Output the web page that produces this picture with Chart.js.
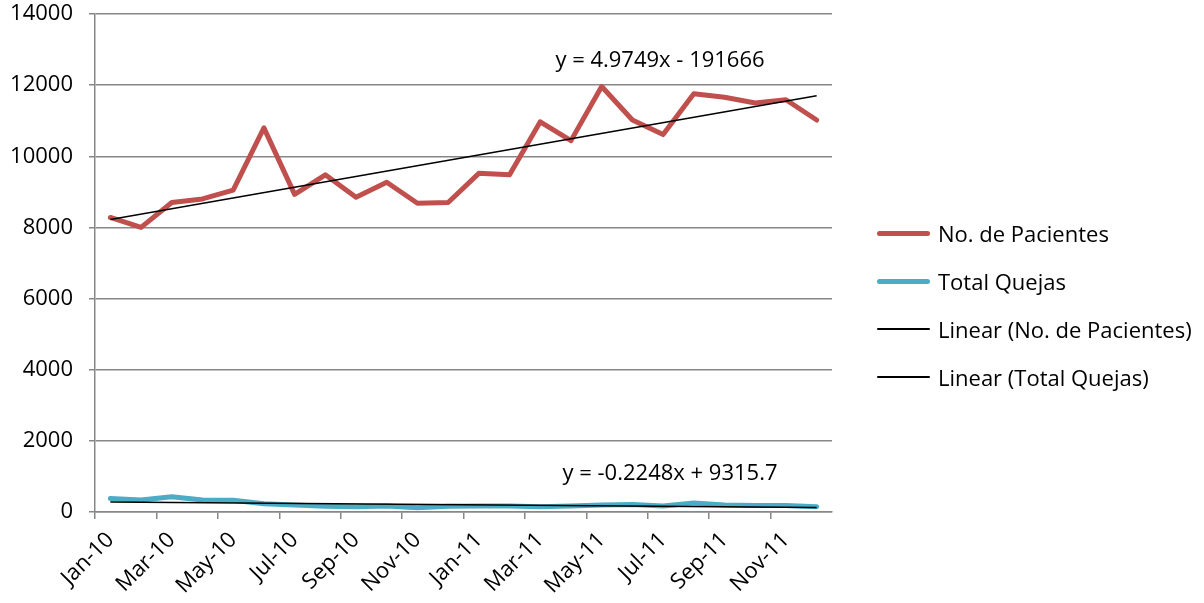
<!DOCTYPE html>
<html>
<head>
<meta charset="utf-8">
<script src="https://cdn.jsdelivr.net/npm/chart.js@4.4.1/dist/chart.umd.min.js"></script>
<style>
  html, body { margin: 0; padding: 0; background: #fff; }
  #wrap { position: relative; width: 1204px; height: 603px; overflow: hidden; }
  #legend { position: absolute; left: 877px; top: 0; font-family: 'Open Sans', Lato, sans-serif; font-size: 22px; color: #000; }
  .lg-item { position: absolute; left: 0; white-space: nowrap; display: flex; align-items: center; height: 30px; }
  .lg-line { width: 53px; margin-right: 8px; border-radius: 3px; }
</style>
</head>
<body>
<div id="wrap">
  <canvas id="chart" width="1204" height="603"></canvas>
  <div id="legend"></div>
</div>
<script>
// ===== data =====
const MONTHS = ['Jan-10','Feb-10','Mar-10','Apr-10','May-10','Jun-10','Jul-10','Aug-10','Sep-10','Oct-10','Nov-10','Dec-10',
                'Jan-11','Feb-11','Mar-11','Apr-11','May-11','Jun-11','Jul-11','Aug-11','Sep-11','Oct-11','Nov-11','Dec-11'];
const PACIENTES = [8280, 8000, 8700, 8800, 9050, 10800, 8930, 9480, 8850, 9270, 8680, 8700,
                   9520, 9480, 10970, 10440, 11960, 11020, 10610, 11760, 11660, 11500, 11590, 11020];
const QUEJAS = [380, 340, 430, 340, 330, 230, 200, 160, 150, 170, 120, 160,
                170, 170, 150, 170, 200, 210, 170, 250, 200, 180, 180, 150];
// trend line end points (first and last month)
const TREND_PACIENTES = [8220, 11700];
const TREND_QUEJAS = [284, 126];
const EQ_PACIENTES = 'y = 4.9749x - 191666';
const EQ_QUEJAS = 'y = -0.2248x + 9315.7';
const Y_TICKS = { min: 0, max: 14000, step: 2000 };

// ===== colours =====
const COLOR_PAC = '#C0504D';
const COLOR_QUE = '#4BACC6';
const COLOR_TREND = '#000000';
const COLOR_GRID = '#878787';
const FONT = { family: "'Open Sans', Lato, sans-serif", size: 22 };

function trendPoints(vals) {
  return [{ x: MONTHS[0], y: vals[0] }, { x: MONTHS[MONTHS.length - 1], y: vals[1] }];
}

// equation labels for the two trend lines
const equationPlugin = {
  id: 'equations',
  afterDatasetsDraw(chart) {
    const ctx = chart.ctx;
    ctx.save();
    ctx.fillStyle = '#000';
    ctx.font = FONT.size + 'px ' + FONT.family;
    ctx.textAlign = 'center';
    ctx.textBaseline = 'middle';
    ctx.fillText(EQ_PACIENTES, 660, 61);
    ctx.fillText(EQ_QUEJAS, 670, 474);
    ctx.restore();
  }
};

function renderChart() {
  const ctx = document.getElementById('chart').getContext('2d');
  return new Chart(ctx, {
    type: 'line',
    data: {
      labels: MONTHS,
      datasets: [
        { label: 'No. de Pacientes', data: PACIENTES, borderColor: COLOR_PAC, borderWidth: 5,
          pointRadius: 0, tension: 0, order: 2, borderCapStyle: 'round', borderJoinStyle: 'round' },
        { label: 'Total Quejas', data: QUEJAS, borderColor: COLOR_QUE, borderWidth: 5,
          pointRadius: 0, tension: 0, order: 2, borderCapStyle: 'round', borderJoinStyle: 'round' },
        { label: 'Linear (No. de Pacientes)', data: trendPoints(TREND_PACIENTES), borderColor: COLOR_TREND,
          borderWidth: 1.5, pointRadius: 0, order: 1 },
        { label: 'Linear (Total Quejas)', data: trendPoints(TREND_QUEJAS), borderColor: COLOR_TREND,
          borderWidth: 1.5, pointRadius: 0, order: 1 }
      ]
    },
    options: {
      responsive: false,
      animation: false,
      layout: { padding: { top: 14, right: 372, left: 0, bottom: 0 } },
      plugins: { legend: { display: false }, tooltip: { enabled: false } },
      scales: {
        x: {
          offset: true,
          afterFit: (s) => { s.height = 91; s.paddingLeft = 0; s.paddingRight = 0; },
          border: { color: COLOR_GRID, width: 1.5 },
          grid: {
            offset: true,
            drawOnChartArea: false,
            tickLength: 7,
            lineWidth: 1.5,
            tickColor: (c) => (c.index % 2 === 0 ? COLOR_GRID : 'rgba(0,0,0,0)')
          },
          ticks: {
            autoSkip: false,
            minRotation: 45,
            maxRotation: 45,
            padding: 8,
            color: '#000',
            font: FONT,
            callback: (v, i) => (i % 2 === 0 ? MONTHS[i] : '')
          }
        },
        y: {
          min: Y_TICKS.min,
          max: Y_TICKS.max,
          afterFit: (s) => { s.width = 95; s.paddingTop = 0; s.paddingBottom = 0; },
          border: { color: COLOR_GRID, width: 1.5 },
          grid: { color: COLOR_GRID, lineWidth: 1.5, tickLength: 6 },
          ticks: { stepSize: Y_TICKS.step, padding: 16, color: '#000', font: FONT, callback: (v) => String(v) }
        }
      }
    },
    plugins: [equationPlugin]
  });
}

// html legend built from the datasets
function renderLegend(chart) {
  const box = document.getElementById('legend');
  const rows = [233, 281, 329, 377];
  chart.data.datasets.forEach((ds, i) => {
    const item = document.createElement('div');
    item.className = 'lg-item';
    item.style.top = (rows[i] - 15) + 'px';
    const line = document.createElement('div');
    line.className = 'lg-line';
    line.style.height = ds.borderWidth + 'px';
    line.style.background = ds.borderColor;
    const txt = document.createElement('span');
    txt.textContent = ds.label;
    item.appendChild(line);
    item.appendChild(txt);
    box.appendChild(item);
  });
}

document.addEventListener('DOMContentLoaded', () => {
  const chart = renderChart();
  renderLegend(chart);
});
</script>
</body>
</html>
